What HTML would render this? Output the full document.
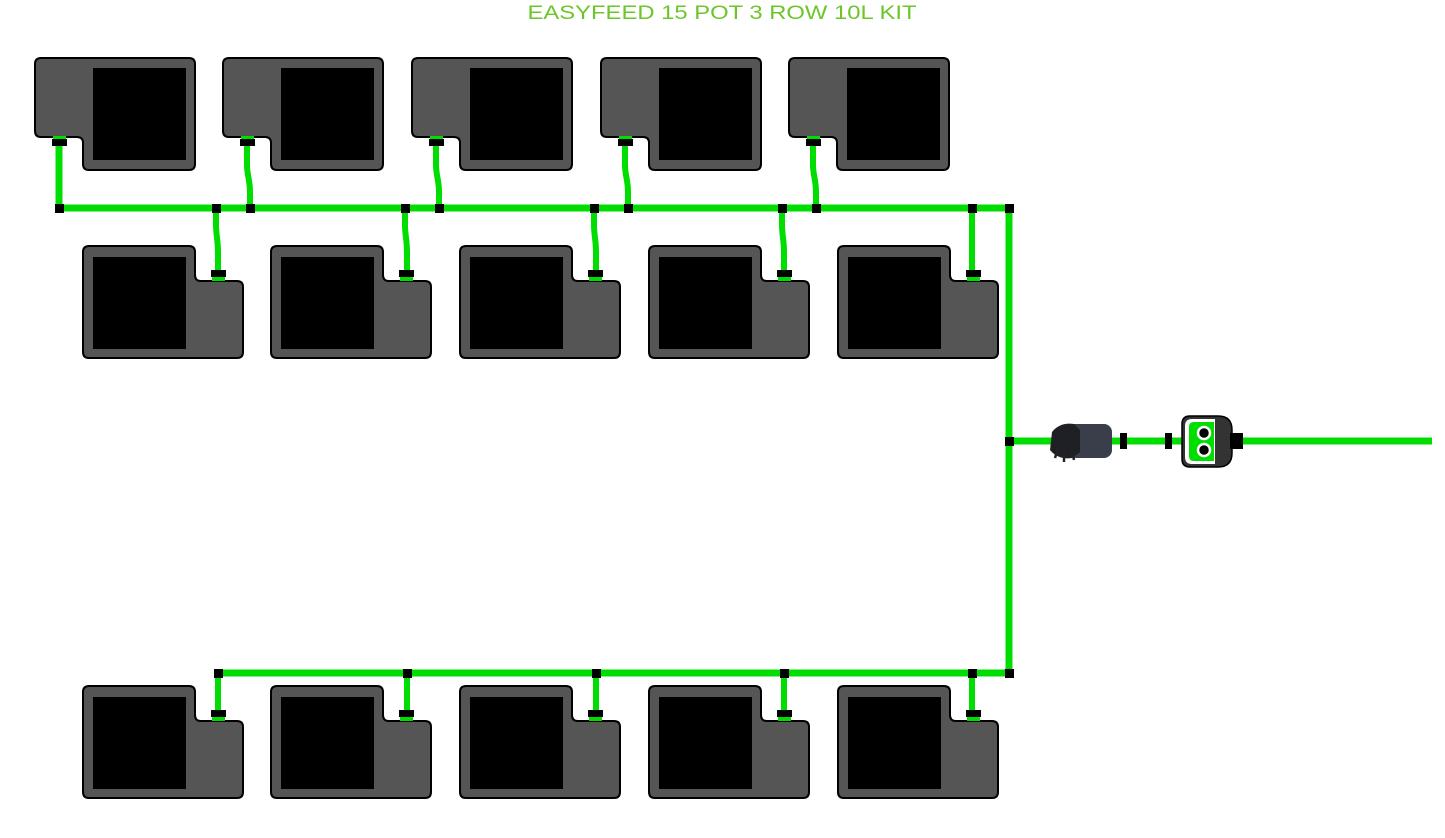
<!DOCTYPE html>
<html><head><meta charset="utf-8"><style>html,body{margin:0;padding:0;background:#fff}svg{display:block}</style></head>
<body>
<svg width="1445" height="838" viewBox="0 0 1445 838" xmlns="http://www.w3.org/2000/svg">
<defs>
<path id="pt" d="M6,0 H154 q6 0 6 6 V106 q0 6 -6 6 H54 q-6 0 -6 -6 V85 q0 -6 -6 -6 H6 q-6 0 -6 -6 V6 q0 -6 6 -6Z" fill="#555" stroke="#000" stroke-width="2"/>
<path id="pb" d="M6,0 H106 q6 0 6 6 V29 q0 6 6 6 H154 q6 0 6 6 V106 q0 6 -6 6 H6 q-6 0 -6 -6 V6 q0 -6 6 -6Z" fill="#555" stroke="#000" stroke-width="2"/>
<g id="top"><use href="#pt"/><rect x="58" y="10" width="93" height="92" fill="#000"/>
<rect x="18" y="78" width="13" height="4" fill="#0d0"/><rect x="17" y="81" width="15" height="7" fill="#000"/></g>
<g id="bot"><use href="#pb"/><rect x="10" y="11" width="93" height="92" fill="#000"/>
<rect x="129" y="31" width="13" height="4" fill="#0d0"/><rect x="128" y="24" width="15" height="7" fill="#000"/></g>
</defs>
<text x="722" y="19" text-anchor="middle" font-family="Liberation Sans, sans-serif" font-size="19" fill="#6cc62a" textLength="389" lengthAdjust="spacingAndGlyphs">EASYFEED 15 POT 3 ROW 10L KIT</text>
<g fill="none" stroke="#0d0" stroke-width="7">
<path d="M59,208 H1012"/><path d="M1009,208 V676"/><path d="M218,673 H1012"/><path d="M1009,441 H1432"/>
<path d="M59,146 V208"/>
</g>
<use href="#top" x="35" y="58"/><use href="#top" x="223" y="58"/><use href="#top" x="412" y="58"/><use href="#top" x="601" y="58"/><use href="#top" x="789" y="58"/>
<g stroke="#0d0" stroke-width="6" fill="none">
<path d="M59,146 V208"/>
<path d="M247,146 V165 C247,175 250,180 250,192 V208"/><path d="M436,146 V165 C436,175 439,180 439,192 V208"/><path d="M625,146 V165 C625,175 628,180 628,192 V208"/><path d="M813,146 V165 C813,175 816,180 816,192 V208"/>
<path d="M216,208 V225 C216,235 218,240 218,252 V270"/><path d="M405,208 V225 C405,235 407,240 407,252 V270"/><path d="M594,208 V225 C594,235 596,240 596,252 V270"/><path d="M782,208 V225 C782,235 784,240 784,252 V270"/><path d="M972,208 V270"/>
<path d="M218,673 V710"/><path d="M407,673 V710"/><path d="M596,673 V710"/><path d="M784,673 V710"/><path d="M972,673 V710"/>
</g>
<g fill="#000">
<rect x="55" y="204" width="9" height="9"/><rect x="212" y="204" width="9" height="9"/><rect x="246" y="204" width="9" height="9"/><rect x="401" y="204" width="9" height="9"/><rect x="435" y="204" width="9" height="9"/><rect x="590" y="204" width="9" height="9"/><rect x="624" y="204" width="9" height="9"/><rect x="778" y="204" width="9" height="9"/><rect x="812" y="204" width="9" height="9"/><rect x="968" y="204" width="9" height="9"/><rect x="1005" y="204" width="9" height="9"/>
<rect x="214" y="669" width="9" height="9"/><rect x="403" y="669" width="9" height="9"/><rect x="592" y="669" width="9" height="9"/><rect x="780" y="669" width="9" height="9"/><rect x="968" y="669" width="9" height="9"/><rect x="1005" y="669" width="9" height="9"/>
<rect x="1005" y="437" width="9" height="9"/>
</g>
<use href="#bot" x="83" y="246"/><use href="#bot" x="271" y="246"/><use href="#bot" x="460" y="246"/><use href="#bot" x="649" y="246"/><use href="#bot" x="838" y="246"/>
<use href="#bot" x="83" y="686"/><use href="#bot" x="271" y="686"/><use href="#bot" x="460" y="686"/><use href="#bot" x="649" y="686"/><use href="#bot" x="838" y="686"/>
<!-- filter -->
<rect x="1066" y="424" width="46" height="34" rx="8" fill="#3a3e4a"/>
<path d="M1052,432 q8,-10 22,-8 l6,6 v22 l-8,6 q-14,2 -22,-8 Z" fill="#1e2026"/>
<path d="M1058,448 l-3,10 M1064,450 l0,12 M1072,450 l2,10" stroke="#222" stroke-width="2.5"/>
<rect x="1120" y="433" width="7" height="16" fill="#000"/>
<rect x="1165" y="433" width="7" height="16" fill="#000"/>
<!-- connector -->
<path d="M1190,416 H1218 q14 0 14 14 V453 q0 14 -14 14 H1190 q-8 0 -8 -8 V424 q0 -8 8 -8Z" fill="#333" stroke="#000" stroke-width="1.5"/>
<path d="M1192,419 H1215 V464 H1192 q-7 0 -7 -7 V426 q0 -7 7 -7Z" fill="#fff"/>
<path d="M1194,422 H1214 V461 H1194 q-5 0 -5 -5 V427 q0 -5 5 -5Z" fill="#0d0"/>
<circle cx="1204" cy="433" r="6" fill="#000" stroke="#fff" stroke-width="2.5"/>
<circle cx="1204" cy="450" r="6" fill="#000" stroke="#fff" stroke-width="2.5"/>
<rect x="1230" y="433" width="13" height="16" fill="#000"/>
</svg>
</body></html>
